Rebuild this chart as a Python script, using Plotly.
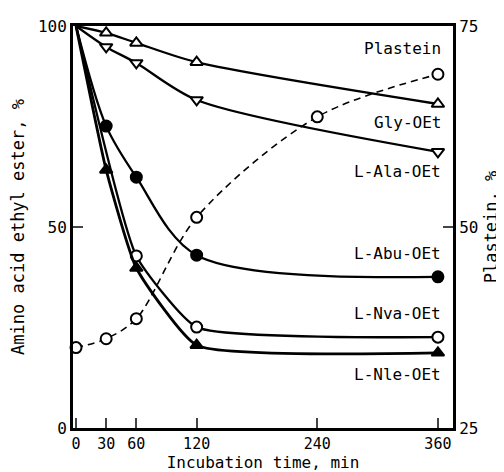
import plotly.graph_objects as go

time_gly = [0, 30, 60, 120, 360]
gly = [100, 98.3, 95.8, 91.0, 80.6]
time_ala = [0, 30, 60, 120, 360]
ala = [100, 94.8, 90.8, 81.6, 68.7]
time_abu = [0, 30, 60, 120, 360]
abu = [100, 75.1, 62.4, 43.0, 37.6]
time_nva = [0, 60, 120, 360]
nva = [100, 42.8, 25.1, 22.6]
time_nle = [0, 30, 60, 120, 360]
nle = [100, 64.2, 39.8, 20.6, 18.7]
time_plastein = [0, 30, 60, 120, 240, 360]
plastein = [35.0, 36.1, 38.6, 51.2, 63.7, 69.0]

labels = ["Plastein", "Gly-OEt", "L-Ala-OEt", "L-Abu-OEt", "L-Nva-OEt", "L-Nle-OEt"]
label_y = [94.3, 76.1, 63.7, 43.3, 28.4, 13.4]

x_ticks = [0, 30, 60, 120, 240, 360]
y_ticks = [0, 50, 100]
y2_ticks = [25, 50, 75]

FONT = "DejaVu Sans Mono"
fig = go.Figure()

def add(x, y, symbol, filled, lw=2.3, yaxis="y", dash="solid", size=11, smooth=0.6,
        skip_first=True):
    fig.add_trace(go.Scatter(
        x=x, y=y, yaxis=yaxis, mode="lines",
        line=dict(color="black", width=lw, shape="spline", smoothing=smooth, dash=dash),
        showlegend=False, hoverinfo="skip"))
    start = 1 if skip_first else 0
    fig.add_trace(go.Scatter(
        x=x[start:], y=y[start:], yaxis=yaxis, mode="markers",
        marker=dict(symbol=symbol, size=size, opacity=1,
                    color="black" if filled else "white",
                    line=dict(color="black", width=2)),
        showlegend=False, cliponaxis=False))

add(time_plastein, plastein, "circle", False, lw=1.6, yaxis="y2", dash="7px,5px",
    smooth=0.9, skip_first=False)
add(time_gly, gly, "triangle-up", False, smooth=0.8)
add(time_ala, ala, "triangle-down", False, smooth=0.8)
add(time_abu, abu, "circle", True, smooth=0.9)
add(time_nva, nva, "circle", False, smooth=0.45)
add(time_nle, nle, "triangle-up", True, lw=2.8, smooth=0.45)

for t, yy in zip(labels, label_y):
    fig.add_annotation(x=365, y=yy, xref="x", yref="y", text=t, showarrow=False,
                       xanchor="right", yanchor="middle",
                       font=dict(family=FONT, size=16, color="black"))

fig.update_layout(
    width=496, height=464,
    margin=dict(l=65, r=51, t=18, b=44),
    paper_bgcolor="white", plot_bgcolor="white",
    font=dict(family=FONT, size=16, color="black"),
    xaxis=dict(range=[-3, 375], tickvals=x_ticks, ticks="inside", ticklen=10, tickwidth=1.5,
               tickfont=dict(size=15),
               showline=True, linewidth=3, linecolor="black", mirror=True,
               showgrid=False, zeroline=False, automargin=False,
               title=dict(text="Incubation time, min", standoff=3, font=dict(size=16))),
    yaxis=dict(range=[0, 100], tickvals=y_ticks, ticks="inside", ticklen=10, tickwidth=1.5,
               showline=True, linewidth=3, linecolor="black",
               showgrid=False, zeroline=False, automargin=False,
               title=dict(text="Amino acid ethyl ester, %", standoff=14, font=dict(size=17))),
    yaxis2=dict(range=[25, 75], tickvals=y2_ticks, ticks="inside", ticklen=10, tickwidth=1.5,
                overlaying="y", side="right",
                showline=True, linewidth=3, linecolor="black",
                showgrid=False, zeroline=False, automargin=False,
                title=dict(text="Plastein, %", standoff=8, font=dict(size=17))),
)

fig.write_html("out.html")
